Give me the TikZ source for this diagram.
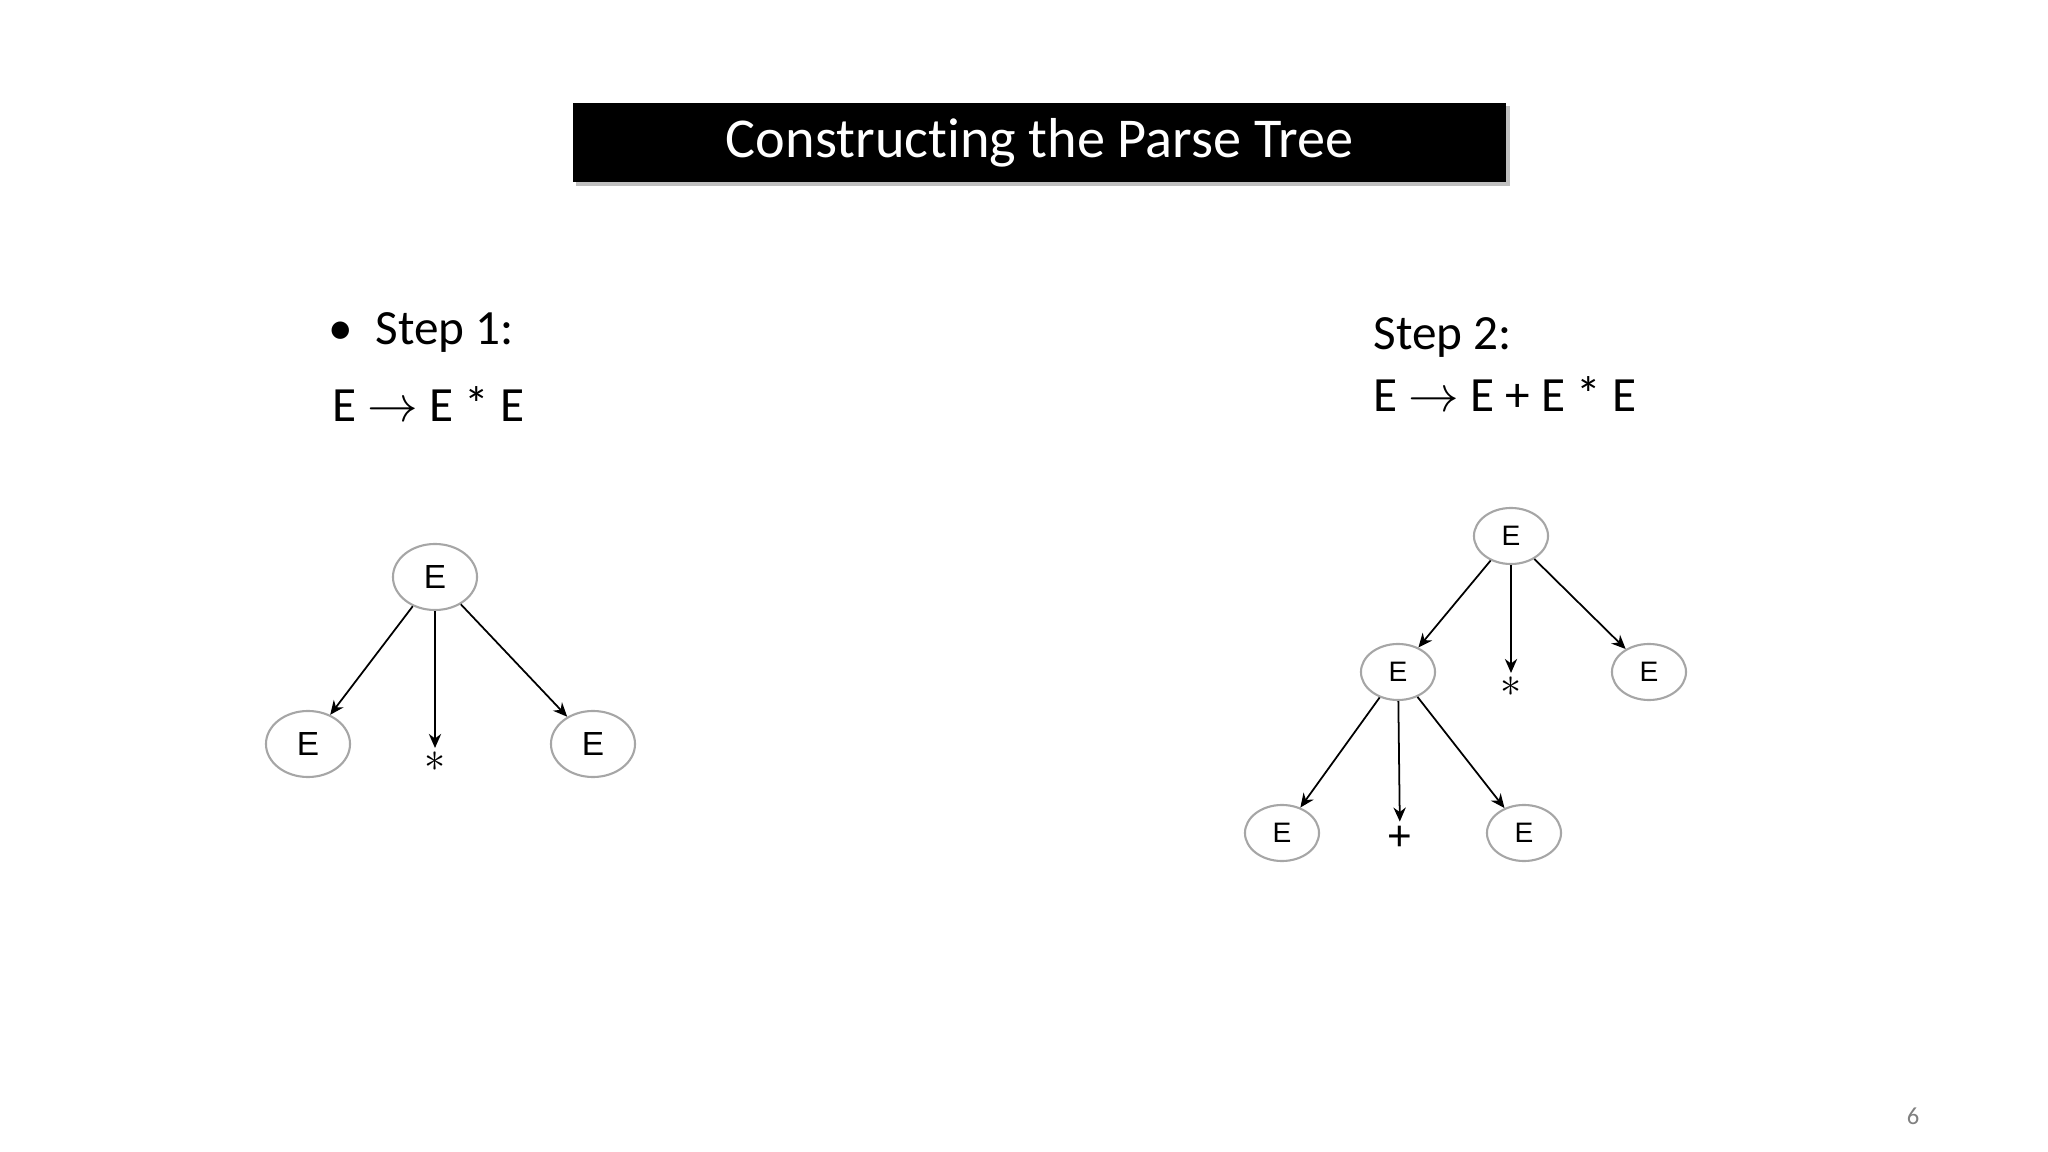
\documentclass[tikz,border=0pt]{standalone}
\usepackage{fontspec}
\setmainfont{Carlito}[Ligatures=NoCommon]
\newfontfamily\treefont{Liberation Sans}
\usetikzlibrary{shapes.geometric,arrows.meta}
\begin{document}
\begin{tikzpicture}[x=0.01cm,y=-0.01cm,
  big/.style={ellipse,draw=gray!70,line width=0.6pt,inner sep=0pt,font=\treefont\fontsize{9.5}{9.5}\selectfont,minimum width=0.84cm,minimum height=0.66cm},
  small/.style={ellipse,draw=gray!70,line width=0.6pt,inner sep=0pt,font=\treefont\fontsize{8}{8}\selectfont,minimum width=0.74cm,minimum height=0.56cm},
  sym/.style={inner sep=1pt,font=\treefont\fontsize{12}{12}\selectfont},
  edge/.style={-{Stealth[length=4pt,width=3.5pt]},line width=0.5pt}]
\useasboundingbox (0,0) rectangle (2048,1152);
\fill[gray!50] (576,106) rectangle (1510,186);
\node[fill=black,text=white,minimum width=9.33cm,minimum height=0.79cm,inner sep=0pt,font=\fontsize{16}{16}\selectfont] (title) at (1039.5,142.5) {Constructing the Parse Tree};
\node[anchor=base west,font=\fontsize{14}{14}\selectfont,inner sep=0pt] (s1) at (328,345) {\textbullet\ \ Step 1:};
\node[anchor=base west,font=\fontsize{14}{14}\selectfont,inner sep=0pt] (r1) at (332,422) {E $\rightarrow$ E * E};
\node[anchor=base west,font=\fontsize{14}{14}\selectfont,inner sep=0pt] (s2) at (1373,350) {Step 2:};
\node[anchor=base west,font=\fontsize{14}{14}\selectfont,inner sep=0pt] (r2) at (1373,412) {E $\rightarrow$ E + E * E};
\node[text=gray,font=\fontsize{7}{7}\selectfont] (pg) at (1913,1116) {6};
% tree 1
\node[big] (a) at (435,577) {E};
\node[big] (a1) at (308,744) {E};
\node[sym] (a2) at (435,762) {$\ast$};
\node[big] (a3) at (593,744) {E};
\draw[edge] (a) -- (a1);
\draw[edge] (a) -- (a2);
\draw[edge] (a) -- (a3);
% tree 2
\node[small] (b) at (1511,536) {E};
\node[small] (b1) at (1398,672) {E};
\node[sym] (b2) at (1511,687) {$\ast$};
\node[small] (b3) at (1649,672) {E};
\node[small] (c1) at (1282,833) {E};
\node[sym] (c2) at (1400,838) {+};
\node[small] (c3) at (1524,833) {E};
\draw[edge] (b) -- (b1);
\draw[edge] (b) -- (b2);
\draw[edge] (b) -- (b3);
\draw[edge] (b1) -- (c1);
\draw[edge] (b1) -- (c2);
\draw[edge] (b1) -- (c3);
\end{tikzpicture}
\end{document}
